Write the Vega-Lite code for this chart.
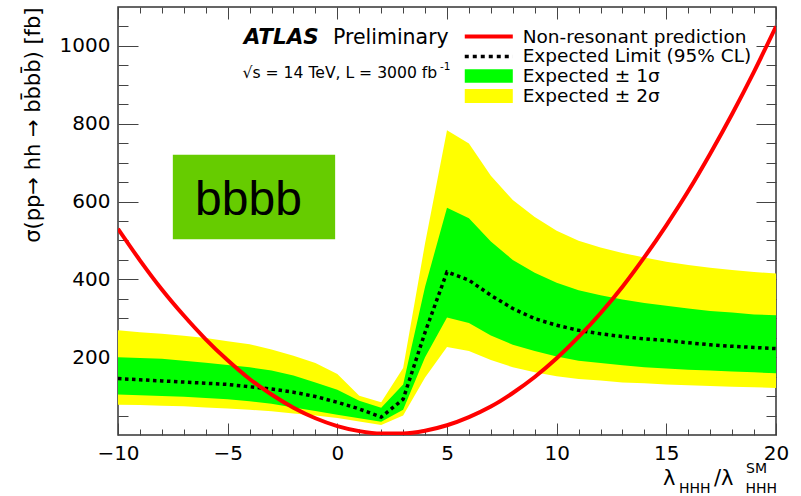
{
  "$schema": "https://vega.github.io/schema/vega-lite/v6.json",
  "width": 658,
  "height": 428,
  "autosize": {"type": "none"},
  "padding": {"left": 118, "top": 7, "right": 25, "bottom": 61},
  "background": "white",
  "config": {
    "view": {"stroke": "#333", "strokeWidth": 1.5},
    "font": "DejaVu Sans",
    "axis": {"grid": false, "domain": false, "tickColor": "#444", "tickWidth": 1, "labelFont": "DejaVu Sans", "labelColor": "black", "labelFontSize": 20, "title": null},
    "text": {"font": "DejaVu Sans", "color": "black"}
  },
  "datasets": {
    "main": [
      {"lam": -10, "exp": 145, "lo1": 104, "hi1": 200, "lo2": 78, "hi2": 269, "pred": 530},
      {"lam": -9, "exp": 142, "lo1": 102, "hi1": 198, "lo2": 77, "hi2": 264, "pred": 449},
      {"lam": -8, "exp": 139, "lo1": 100, "hi1": 196, "lo2": 75, "hi2": 260, "pred": 374},
      {"lam": -7, "exp": 136, "lo1": 98, "hi1": 191, "lo2": 74, "hi2": 255, "pred": 307},
      {"lam": -6, "exp": 133, "lo1": 95, "hi1": 186, "lo2": 71, "hi2": 249, "pred": 246},
      {"lam": -5, "exp": 130, "lo1": 92, "hi1": 180, "lo2": 68, "hi2": 241, "pred": 192},
      {"lam": -4, "exp": 124, "lo1": 87, "hi1": 174, "lo2": 65, "hi2": 233, "pred": 144},
      {"lam": -3, "exp": 118, "lo1": 80, "hi1": 166, "lo2": 61, "hi2": 220, "pred": 104},
      {"lam": -2, "exp": 110, "lo1": 71, "hi1": 153, "lo2": 55, "hi2": 204, "pred": 70},
      {"lam": -1, "exp": 99, "lo1": 62, "hi1": 135, "lo2": 50, "hi2": 185, "pred": 43},
      {"lam": 0, "exp": 84, "lo1": 52, "hi1": 116, "lo2": 44, "hi2": 157, "pred": 23},
      {"lam": 1, "exp": 67, "lo1": 43, "hi1": 88, "lo2": 35, "hi2": 101, "pred": 10},
      {"lam": 2, "exp": 46, "lo1": 34, "hi1": 70, "lo2": 26, "hi2": 84, "pred": 4},
      {"lam": 3, "exp": 92, "lo1": 65, "hi1": 130, "lo2": 50, "hi2": 172, "pred": 4},
      {"lam": 4, "exp": 264, "lo1": 200, "hi1": 381, "lo2": 148, "hi2": 493, "pred": 11},
      {"lam": 5, "exp": 419, "lo1": 302, "hi1": 584, "lo2": 226, "hi2": 783, "pred": 25},
      {"lam": 6, "exp": 398, "lo1": 288, "hi1": 557, "lo2": 216, "hi2": 749, "pred": 46},
      {"lam": 7, "exp": 359, "lo1": 256, "hi1": 497, "lo2": 193, "hi2": 666, "pred": 73},
      {"lam": 8, "exp": 325, "lo1": 232, "hi1": 450, "lo2": 174, "hi2": 604, "pred": 108},
      {"lam": 9, "exp": 299, "lo1": 216, "hi1": 417, "lo2": 161, "hi2": 560, "pred": 149},
      {"lam": 10, "exp": 282, "lo1": 202, "hi1": 391, "lo2": 151, "hi2": 525, "pred": 197},
      {"lam": 11, "exp": 269, "lo1": 191, "hi1": 372, "lo2": 144, "hi2": 499, "pred": 252},
      {"lam": 12, "exp": 260, "lo1": 185, "hi1": 359, "lo2": 140, "hi2": 482, "pred": 313},
      {"lam": 13, "exp": 253, "lo1": 179, "hi1": 348, "lo2": 135, "hi2": 468, "pred": 381},
      {"lam": 14, "exp": 247, "lo1": 174, "hi1": 339, "lo2": 133, "hi2": 456, "pred": 457},
      {"lam": 15, "exp": 243, "lo1": 171, "hi1": 332, "lo2": 130, "hi2": 445, "pred": 539},
      {"lam": 16, "exp": 237, "lo1": 168, "hi1": 325, "lo2": 128, "hi2": 437, "pred": 627},
      {"lam": 17, "exp": 232, "lo1": 166, "hi1": 319, "lo2": 126, "hi2": 430, "pred": 723},
      {"lam": 18, "exp": 228, "lo1": 163, "hi1": 315, "lo2": 124, "hi2": 424, "pred": 825},
      {"lam": 19, "exp": 225, "lo1": 161, "hi1": 310, "lo2": 123, "hi2": 419, "pred": 934},
      {"lam": 20, "exp": 222, "lo1": 159, "hi1": 308, "lo2": 121, "hi2": 415, "pred": 1050}
    ]
  },
  "resolve": {"axis": {"x": "independent", "y": "independent"}},
  "layer": [
    {
      "data": {"name": "main"},
      "mark": {"type": "area", "color": "#FFFF00", "opacity": 1, "clip": true},
      "encoding": {
        "x": {"field": "lam", "type": "quantitative", "scale": {"domain": [-10, 20], "nice": false, "zero": false},
              "axis": {"orient": "bottom", "values": [-10, -5, 0, 5, 10, 15, 20], "tickSize": -12, "labelPadding": 20, "labelFlush": false}},
        "y": {"field": "lo2", "type": "quantitative", "scale": {"domain": [0, 1100], "nice": false, "zero": false},
              "axis": {"orient": "left", "values": [200, 400, 600, 800, 1000], "format": "d", "tickSize": -20, "labelPadding": 28,
                       "title": "σ(pp→ hh → bb̄bb̄) [fb]", "titleFont": "DejaVu Sans", "titleFontSize": 21, "titleFontWeight": "normal",
                       "titleAngle": -90, "titleAlign": "right", "titleBaseline": "middle", "titleX": -85, "titleY": 0}},
        "y2": {"field": "hi2"}
      }
    },
    {
      "data": {"name": "main"},
      "mark": {"type": "area", "color": "#00FF00", "opacity": 1, "clip": true},
      "encoding": {
        "x": {"field": "lam", "type": "quantitative",
              "axis": {"orient": "bottom", "values": [-9, -8, -7, -6, -4, -3, -2, -1, 1, 2, 3, 4, 6, 7, 8, 9, 11, 12, 13, 14, 16, 17, 18, 19], "tickSize": -6, "labels": false}},
        "y": {"field": "lo1", "type": "quantitative",
              "axis": {"orient": "left", "values": [50, 100, 150, 250, 300, 350, 450, 500, 550, 650, 700, 750, 850, 900, 950, 1050], "tickSize": -10, "labels": false}},
        "y2": {"field": "hi1"}
      }
    },
    {
      "data": {"name": "main"},
      "mark": {"type": "line", "color": "black", "strokeWidth": 3.5, "strokeDash": [3.5, 3.5], "strokeCap": "butt", "clip": true},
      "encoding": {
        "x": {"field": "lam", "type": "quantitative",
              "axis": {"orient": "top", "values": [-10, -5, 0, 5, 10, 15, 20], "tickSize": -12, "labels": false}},
        "y": {"field": "exp", "type": "quantitative",
              "axis": {"orient": "right", "values": [200, 400, 600, 800, 1000], "tickSize": -20, "labels": false}}
      }
    },
    {
      "data": {"name": "main"},
      "mark": {"type": "line", "color": "#FF0000", "strokeWidth": 4, "interpolate": "monotone", "clip": true},
      "encoding": {
        "x": {"field": "lam", "type": "quantitative",
              "axis": {"orient": "top", "values": [-9, -8, -7, -6, -4, -3, -2, -1, 1, 2, 3, 4, 6, 7, 8, 9, 11, 12, 13, 14, 16, 17, 18, 19], "tickSize": -6, "labels": false}},
        "y": {"field": "pred", "type": "quantitative",
              "axis": {"orient": "right", "values": [50, 100, 150, 250, 300, 350, 450, 500, 550, 650, 700, 750, 850, 900, 950, 1050], "tickSize": -10, "labels": false}}
      }
    },
    {
      "data": {"values": [{}]},
      "mark": {"type": "rect", "color": "#66CC00"},
      "encoding": {"x": {"datum": -7.5, "axis": null}, "x2": {"datum": -0.1}, "y": {"datum": 720, "axis": null}, "y2": {"datum": 503}}
    },
    {
      "data": {"values": [{"t": "bbbb"}]},
      "mark": {"type": "text", "font": "Liberation Sans", "fontSize": 48, "align": "center", "baseline": "alphabetic"},
      "encoding": {"x": {"datum": -4.05, "axis": null}, "y": {"datum": 565, "axis": null}, "text": {"field": "t"}}
    },
    {
      "data": {"values": [{"t": "ATLAS"}]},
      "mark": {"type": "text", "fontSize": 21.5, "fontWeight": "bold", "fontStyle": "italic", "align": "left", "baseline": "alphabetic"},
      "encoding": {"x": {"datum": -4.27, "axis": null}, "y": {"datum": 1005, "axis": null}, "text": {"field": "t"}}
    },
    {
      "data": {"values": [{"t": "Preliminary"}]},
      "mark": {"type": "text", "fontSize": 20.5, "align": "left", "baseline": "alphabetic"},
      "encoding": {"x": {"datum": -0.2, "axis": null}, "y": {"datum": 1005, "axis": null}, "text": {"field": "t"}}
    },
    {
      "data": {"values": [{"t": "√s = 14 TeV, L = 3000 fb"}]},
      "mark": {"type": "text", "fontSize": 15.6, "align": "left", "baseline": "alphabetic"},
      "encoding": {"x": {"datum": -4.32, "axis": null}, "y": {"datum": 917, "axis": null}, "text": {"field": "t"}}
    },
    {
      "data": {"values": [{"t": "-1"}]},
      "mark": {"type": "text", "fontSize": 10.5, "align": "left", "baseline": "alphabetic"},
      "encoding": {"x": {"datum": 4.68, "axis": null}, "y": {"datum": 937, "axis": null}, "text": {"field": "t"}}
    },
    {
      "data": {"values": [{}]},
      "mark": {"type": "rule", "color": "#FF0000", "strokeWidth": 4},
      "encoding": {"x": {"datum": 5.81, "axis": null}, "x2": {"datum": 8.0}, "y": {"datum": 1024, "axis": null}}
    },
    {
      "data": {"values": [{}]},
      "mark": {"type": "rule", "color": "black", "strokeWidth": 3.5, "strokeDash": [4, 4], "strokeCap": "butt"},
      "encoding": {"x": {"datum": 5.81, "axis": null}, "x2": {"datum": 8.0}, "y": {"datum": 973, "axis": null}}
    },
    {
      "data": {"values": [{}]},
      "mark": {"type": "rect", "color": "#00FF00"},
      "encoding": {"x": {"datum": 5.81, "axis": null}, "x2": {"datum": 8.0}, "y": {"datum": 940, "axis": null}, "y2": {"datum": 905}}
    },
    {
      "data": {"values": [{}]},
      "mark": {"type": "rect", "color": "#FFFF00"},
      "encoding": {"x": {"datum": 5.81, "axis": null}, "x2": {"datum": 8.0}, "y": {"datum": 889, "axis": null}, "y2": {"datum": 853}}
    },
    {
      "data": {"values": [
        {"t": "Non-resonant prediction", "yy": 1024},
        {"t": "Expected Limit (95% CL)", "yy": 973},
        {"t": "Expected ± 1σ", "yy": 922},
        {"t": "Expected ± 2σ", "yy": 871}
      ]},
      "mark": {"type": "text", "fontSize": 18.5, "align": "left", "baseline": "middle"},
      "encoding": {"x": {"datum": 8.45, "axis": null}, "y": {"field": "yy", "type": "quantitative", "axis": null}, "text": {"field": "t"}}
    },
    {
      "data": {"values": [{"t": "λ"}]},
      "mark": {"type": "text", "fontSize": 21, "align": "left", "baseline": "alphabetic", "dx": -113, "dy": 50},
      "encoding": {"x": {"datum": 20, "axis": null}, "y": {"datum": 0, "axis": null}, "text": {"field": "t"}}
    },
    {
      "data": {"values": [{"t": "HHH"}]},
      "mark": {"type": "text", "fontSize": 14, "align": "left", "baseline": "alphabetic", "dx": -97, "dy": 58},
      "encoding": {"x": {"datum": 20, "axis": null}, "y": {"datum": 0, "axis": null}, "text": {"field": "t"}}
    },
    {
      "data": {"values": [{"t": "/λ"}]},
      "mark": {"type": "text", "fontSize": 21, "align": "left", "baseline": "alphabetic", "dx": -62, "dy": 50},
      "encoding": {"x": {"datum": 20, "axis": null}, "y": {"datum": 0, "axis": null}, "text": {"field": "t"}}
    },
    {
      "data": {"values": [{"t": "HHH"}]},
      "mark": {"type": "text", "fontSize": 14, "align": "right", "baseline": "alphabetic", "dx": 1, "dy": 58},
      "encoding": {"x": {"datum": 20, "axis": null}, "y": {"datum": 0, "axis": null}, "text": {"field": "t"}}
    },
    {
      "data": {"values": [{"t": "SM"}]},
      "mark": {"type": "text", "fontSize": 14, "align": "left", "baseline": "alphabetic", "dx": -30, "dy": 38},
      "encoding": {"x": {"datum": 20, "axis": null}, "y": {"datum": 0, "axis": null}, "text": {"field": "t"}}
    }
  ]
}
